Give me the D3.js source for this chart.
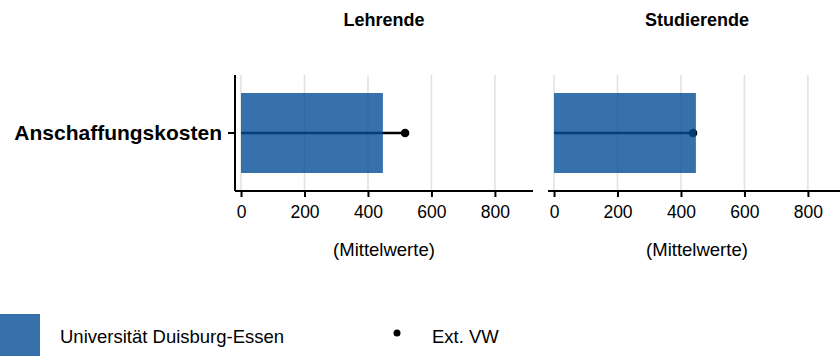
<!DOCTYPE html>
<html><head><meta charset="utf-8">
<script src="https://cdn.jsdelivr.net/npm/d3@7"></script>
<style>body{margin:0;background:#fff}svg{display:block;font-family:"Liberation Sans",Arial,sans-serif}</style>
</head><body><svg id="c" width="840" height="358"></svg>
<script>
const categories = ["Anschaffungskosten"];
const panels = ["Lehrende", "Studierende"];
const barValues = [447, 447];      // Universität Duisburg-Essen
const dotValues = [517, 438];      // Ext. VW
const xTicks = [0, 200, 400, 600, 800];
const axisTitle = "(Mittelwerte)";
const legendLabels = ["Universität Duisburg-Essen", "Ext. VW"];

const svg = d3.select("#c");
const barColor = "#054d97";
const panelX = [235, 548];
const panelW = 298;
const pTop = 75, pBottom = 191;
const FF = "Liberation Sans, Arial, sans-serif";

const y = d3.scaleBand().domain(categories).range([pTop, pBottom]).paddingInner(0).paddingOuter(0.225);

panels.forEach((p, i) => {
  const g = svg.append("g").attr("transform", `translate(${panelX[i]},0)`);
  const x = d3.scaleLinear().domain([-19, 920]).range([0, panelW]);
  g.selectAll("line.grid").data(xTicks).enter().append("line")
    .attr("x1", d => x(d)).attr("x2", d => x(d)).attr("y1", pTop).attr("y2", pBottom)
    .attr("stroke", "#e2e2e2").attr("stroke-width", 1.6);
  const cy = y(categories[0]) + y.bandwidth() / 2;
  g.append("line").attr("x1", x(0)).attr("x2", x(dotValues[i])).attr("y1", cy).attr("y2", cy)
    .attr("stroke", "#000").attr("stroke-width", 2.4);
  g.append("circle").attr("cx", x(dotValues[i])).attr("cy", cy).attr("r", 4.3).attr("fill", "#000");
  g.append("rect").attr("x", x(0)).attr("y", y(categories[0])).attr("width", x(barValues[i]) - x(0))
    .attr("height", y.bandwidth()).attr("fill", barColor).attr("fill-opacity", 0.8);
  const ax = g.append("g").attr("transform", `translate(0,${pBottom})`)
    .call(d3.axisBottom(x).tickValues(xTicks).tickSize(6).tickPadding(9));
  ax.select(".domain").attr("stroke", "#000").attr("stroke-width", 2).attr("d", `M0,0H${panelW}`);
  ax.selectAll(".tick line").attr("stroke", "#000").attr("stroke-width", 2);
  ax.selectAll(".tick text").attr("font-size", 17.5).attr("fill", "#000").attr("font-family", FF);
  g.append("text").attr("x", panelW / 2).attr("y", 26).attr("text-anchor", "middle")
    .attr("font-size", 18).attr("font-weight", "bold").attr("font-family", FF).text(p);
  g.append("text").attr("x", panelW / 2).attr("y", 256).attr("text-anchor", "middle")
    .attr("font-size", 18.5).attr("font-family", FF).text(axisTitle);
  if (i === 0) {
    const ay = g.append("g").call(d3.axisLeft(y).tickSize(7).tickPadding(6));
    ay.select(".domain").attr("stroke", "#000").attr("stroke-width", 2).attr("d", `M0,${pTop}V${pBottom}`);
    ay.selectAll(".tick line").attr("stroke", "#000").attr("stroke-width", 2);
    ay.selectAll(".tick text").attr("font-size", 21).attr("font-weight", "bold").attr("fill", "#000")
      .attr("font-family", FF);
  }
});

svg.append("rect").attr("x", 0).attr("y", 314).attr("width", 40).attr("height", 42)
  .attr("fill", barColor).attr("fill-opacity", 0.8);
svg.append("text").attr("x", 60).attr("y", 343).attr("font-size", 18.5).attr("font-family", FF).text(legendLabels[0]);
svg.append("circle").attr("cx", 397).attr("cy", 333).attr("r", 3.5).attr("fill", "#000");
svg.append("text").attr("x", 432).attr("y", 343).attr("font-size", 18.5).attr("font-family", FF).text(legendLabels[1]);
</script></body></html>
